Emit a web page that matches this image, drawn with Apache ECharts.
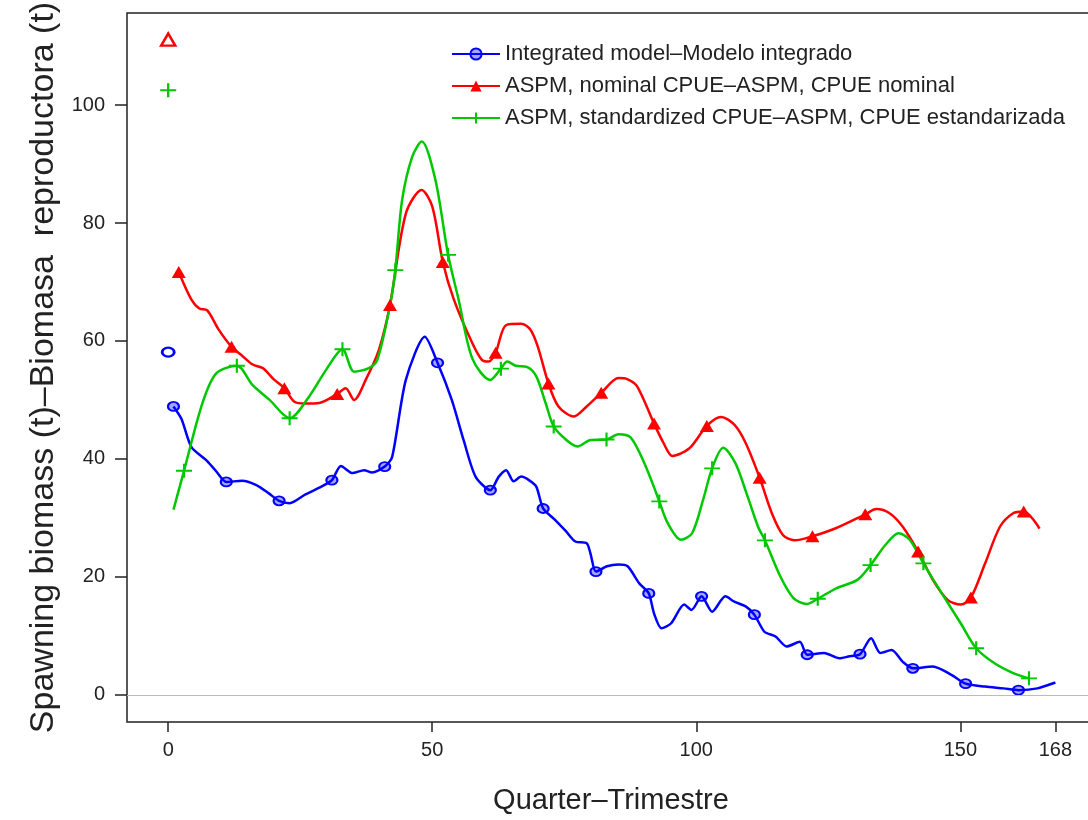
<!DOCTYPE html>
<html>
<head>
<meta charset="utf-8">
<script src="https://cdn.jsdelivr.net/npm/echarts@6/dist/echarts.min.js"></script>
<style>
  html, body { margin: 0; padding: 0; background: #fff; }
  #chart { width: 1088px; height: 820px; }
</style>
</head>
<body>
<div id="chart"></div>
<script>
// quarter positions and biomass values
const blueQ = [1, 2.5, 4.4, 7.2, 9, 11, 14, 16.6, 19, 21, 23, 26, 29, 31, 32.7, 34.9, 37.1, 38.6, 41, 42.4, 45, 48.6, 51, 53.7, 56, 58.2, 61,
  62.6, 64, 65.4, 66.85, 68.3, 69.7, 71, 73.2, 75.35, 77.1, 79.25, 79.95, 81, 83.1, 85.3, 87, 89.2, 91, 92, 93.4, 95.2, 97.7, 99.1, 101,
  103, 105.5, 107.2, 109.35, 111, 112.9, 115, 117.1, 119.6, 121, 124.2, 127.1, 128.8, 131, 133.1, 134.85, 137, 139.1, 141, 144.8, 148.3,
  151, 154.7, 158.2, 161, 164.6, 168];
const blueB = [48.9, 46.8, 42, 39.8, 38, 36.1, 36.3, 35.6, 34.2, 32.9, 32.5, 34, 35.3, 36.4, 38.8, 37.6, 38.1, 37.7, 38.7, 40.3, 53.4, 60.7, 56.3, 50, 43, 37, 34.7,
  37, 38.1, 36.2, 37, 36.4, 35.3, 31.6, 29.7, 27.7, 26, 25.7, 24, 20.9, 21.8, 22.1, 21.8, 18.9, 17.2, 13.8, 11.3, 12.1, 15.3, 14.4, 16.7,
  14.1, 16.7, 15.8, 15, 13.6, 10.7, 9.9, 8.2, 9, 6.8, 7.1, 6.2, 6.5, 6.9, 9.6, 7.1, 7.6, 5.6, 4.5, 4.8, 3.4,
  1.9, 1.4, 1.1, 0.8, 1.1, 2.1];
const blueMarkQ = [1, 11, 21, 31, 41, 51, 61, 71, 81, 91, 101, 111, 121, 131, 141, 151, 161];

const redQ = [2, 4.4, 5.9, 7.4, 9.5, 12, 14, 16, 17.9, 20, 22, 23.9, 26, 28.6, 32, 33.6, 35.2, 37.4, 39.9, 42, 45, 48, 50, 52, 54.1, 57.6, 59.4, 60.7,
  62, 64, 66.85, 68.6, 70, 72, 73.9, 76.8, 79.25, 82, 85.3, 87, 88.8, 92, 93.8, 95.5, 98.7, 102, 104.7, 107.2, 109.35, 112, 114.3, 116.4, 118.6,
  122, 126.3, 132, 134.1, 136.6, 139.1, 142, 144.8, 147.6, 150.1, 152, 154.7, 157.5, 160, 162, 165];
const redB = [71.7, 67, 65.5, 65.2, 62, 59, 57.5, 56, 55.4, 53.5, 52, 49.7, 49.4, 49.5, 51, 52, 50, 53.4, 58.5, 66.1, 81.6, 85.6, 82.8, 73.4, 67, 59.6, 56.8, 56.5,
  58, 62.7, 62.9, 61.9, 59, 52.8, 48.9, 47.2, 48.9, 51.2, 53.7, 53.5, 52.3, 46, 42.7, 40.5, 41.8, 45.6, 47.1, 45.8, 42.7, 36.8, 30.8, 27.1, 26.2,
  26.9, 28.2, 30.6, 31.5, 30.8, 28.5, 24.3, 19.5, 16.1, 15.3, 16.5, 22.3, 28.5, 30.8, 31.1, 28.2];
const redMarkQ = [2, 12, 22, 32, 42, 52, 62, 72, 82, 92, 102, 112, 122, 132, 142, 152, 162];

const greenQ = [1, 3, 6.5, 9.1, 13, 16, 19.2, 23, 26.7, 29.9, 33, 35.2, 38, 39.6, 42, 43, 44.3, 46.2, 48, 50.6, 53, 55, 57.6, 61,
  63, 64.2, 65.8, 67.9, 69.7, 71.5, 73, 75.4, 77.5, 80, 83, 85.3, 87.5, 89.6, 91.7, 93, 94.6, 97.1, 99.2, 101.3, 103, 105.1, 107.4, 109.5,
  111.7, 113, 115.9, 118.4, 120.9, 123, 126.6, 130.5, 133, 135.8, 138.3, 140.4, 143, 146.5, 150.1, 153, 156.4, 160, 163];
const greenB = [31.4, 38, 49.5, 54.5, 55.8, 52.5, 50, 46.9, 50.6, 55.1, 58.6, 54.8, 55.4, 56.8, 66, 72, 83.9, 91.2, 93.8, 87.3, 74.6, 67, 57, 53.4,
  55.3, 56.5, 55.8, 55.6, 54, 49.4, 45.5, 43.2, 42.1, 43.2, 43.3, 44.2, 43.7, 40.4, 35.9, 32.8, 29.1, 26.3, 27.4, 33.1, 38.4, 41.9, 39.3, 34.2,
  28.5, 26.2, 20.1, 16.4, 15.4, 16.3, 18.1, 19.5, 22, 25.4, 27.4, 26.3, 22.3, 17.2, 12.1, 7.9, 5.4, 3.7, 2.8];
const greenMarkQ = [3, 13, 23, 33, 43, 53, 63, 73, 83, 93, 103, 113, 123, 133, 143, 153, 163];

// separate estimates plotted at quarter 0
const startBlue = 58.1;
const startRed = 111.1;
const startGreen = 102.5;

const xTicks = [0, 50, 100, 150, 168];
const yTicks = [0, 20, 40, 60, 80, 100];

const names = [
  'Integrated model\u2013Modelo integrado',
  'ASPM, nominal CPUE\u2013ASPM, CPUE nominal',
  'ASPM, standardized CPUE\u2013ASPM, CPUE estandarizada'
];

const BLUE = '#0000ff';
const RED = '#ff0000';
const GREEN = '#00c800';
const PLUS = 'path://M0,-1L0,1M-1,0L1,0';

function buildData(qs, vals, marks) {
  return qs.map((q, i) => marks.includes(q)
    ? { value: [q, vals[i]] }
    : { value: [q, vals[i]], symbol: 'none' });
}

const chart = echarts.init(document.getElementById('chart'));
const font = 'Liberation Sans, Arial, sans-serif';

chart.setOption({
  animation: false,
  backgroundColor: '#fff',
  grid: {
    left: 127, top: 13, width: 968, bottom: 98,
    outerBoundsMode: 'none',
    show: true, borderColor: '#222', borderWidth: 1.5, backgroundColor: 'transparent'
  },
  legend: {
    orient: 'vertical',
    left: 446, top: 38,
    itemWidth: 48, itemHeight: 14, itemGap: 10,
    textStyle: { fontFamily: font, fontSize: 22, color: '#222' },
    data: names
  },
  xAxis: {
    type: 'value', min: -7.8, max: 175.5,
    name: 'Quarter\u2013Trimestre',
    nameLocation: 'middle', nameGap: 64,
    nameTextStyle: { fontFamily: font, fontSize: 29, color: '#222' },
    axisLine: { show: false, onZero: false },
    axisTick: { show: true, inside: false, length: 10, customValues: xTicks, lineStyle: { color: '#222', width: 1.5 } },
    axisLabel: { customValues: xTicks, fontFamily: font, fontSize: 20, color: '#222', margin: 18 },
    splitLine: { show: false }
  },
  yAxis: {
    type: 'value', min: -4.6, max: 115.6,
    name: 'Spawning biomass (t)\u2013Biomasa  reproductora (t)',
    nameLocation: 'middle', nameGap: 66, nameRotate: 90,
    nameTextStyle: { fontFamily: font, fontSize: 34, color: '#222' },
    axisLine: { show: false, onZero: false },
    axisTick: { show: true, inside: false, length: 12, customValues: yTicks, lineStyle: { color: '#222', width: 1.5 } },
    axisLabel: { customValues: yTicks, fontFamily: font, fontSize: 20, color: '#222', margin: 22 },
    splitLine: { show: false }
  },
  series: [
    {
      name: names[0], type: 'line', smooth: 0.25,
      data: buildData(blueQ, blueB, blueMarkQ),
      symbol: 'circle', symbolSize: [11, 9], showAllSymbol: true,
      lineStyle: { color: BLUE, width: 2.5 },
      itemStyle: { color: 'rgba(0,0,255,0.35)', borderColor: BLUE, borderWidth: 2 },
      markLine: {
        silent: true, symbol: 'none', label: { show: false },
        lineStyle: { color: '#bbb', type: 'solid', width: 1.2 },
        data: [{ yAxis: 0 }]
      },
      z: 3
    },
    {
      name: names[1], type: 'line', smooth: 0.3,
      data: buildData(redQ, redB, redMarkQ),
      symbol: 'triangle', symbolSize: [14, 12], showAllSymbol: true,
      lineStyle: { color: RED, width: 2.5 },
      itemStyle: { color: RED },
      z: 3
    },
    {
      name: names[2], type: 'line', smooth: 0.3,
      data: buildData(greenQ, greenB, greenMarkQ),
      symbol: PLUS, symbolSize: [16, 14], showAllSymbol: true,
      lineStyle: { color: GREEN, width: 2.5 },
      itemStyle: { color: 'transparent', borderColor: GREEN, borderWidth: 2 },
      z: 3
    },
    {
      type: 'scatter', data: [[0, startBlue]], symbol: 'circle', symbolSize: [12, 9],
      itemStyle: { color: '#fff', borderColor: BLUE, borderWidth: 2.5, opacity: 1 }
    },
    {
      type: 'scatter', data: [[0, startRed]], symbol: 'triangle', symbolSize: [14, 12],
      itemStyle: { color: '#fff', borderColor: RED, borderWidth: 2.5, opacity: 1 }
    },
    {
      type: 'scatter', data: [[0, startGreen]], symbol: PLUS, symbolSize: [16, 14],
      itemStyle: { color: 'transparent', borderColor: GREEN, borderWidth: 2.2, opacity: 1 }
    }
  ]
});
</script>
</body>
</html>
